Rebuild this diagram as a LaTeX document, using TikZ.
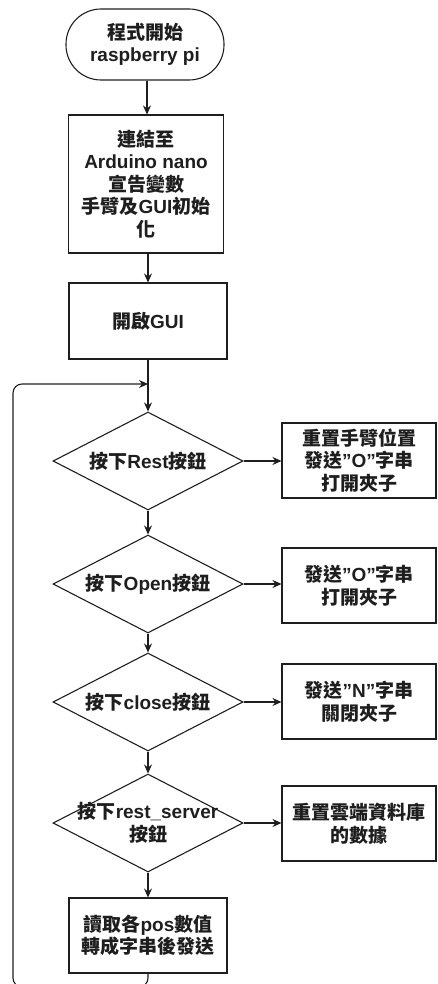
\documentclass[tikz,border=0pt]{standalone}
\usepackage{fontspec}
\setmainfont{Liberation Sans}
\newfontfamily\cjkf{Noto Sans CJK TC}
\newcommand\cj[1]{{\cjkf #1}}
\newcommand\dq{{\char34}}
\usetikzlibrary{arrows.meta,shapes.geometric}
\definecolor{ln}{HTML}{1E1E1E}
\definecolor{tx}{HTML}{1E1E1E}
\tikzset{
  base/.style={draw=ln,line width=1.1pt,text=tx,align=center,inner sep=0pt,
    font=\fontsize{19}{22.5}\selectfont\bfseries},
  proc/.style={base,rectangle},
  term/.style={base,rectangle,rounded corners=35pt},
  dia/.style={draw=ln,line width=1.1pt,diamond,minimum width=190pt,minimum height=98pt,inner sep=0pt},
  lbl/.style={text=tx,align=center,inner sep=0pt,font=\fontsize{19}{22.5}\selectfont\bfseries},
  arr/.style={draw=ln,line width=1.1pt,-{Stealth[length=9pt,width=8pt,inset=3pt]}},
}
\begin{document}
\begin{tikzpicture}[x=1pt,y=-1pt]
\useasboundingbox (0,0) rectangle (437,984);
\node[term,minimum width=158pt,minimum height=71pt] (start) at (145,44.5) {\cj{程式開始}\\raspberry pi};
\node[proc,minimum width=155pt,minimum height=138pt] (b1) at (146,184) {\cj{連結至}\\Arduino nano\\\cj{宣告變數}\\\cj{手臂及}GUI\cj{初始}\\\cj{化}};
\node[proc,minimum width=158pt,minimum height=76pt] (gui) at (148,321) {\cj{開啟}GUI};

\node[dia] (d1) at (148,461) {};
\node[lbl] (d1t) at (d1) {\cj{按下}Rest\cj{按鈕}};
\node[dia] (d2) at (148,584) {};
\node[lbl] (d2t) at (d2) {\cj{按下}Open\cj{按鈕}};
\node[dia] (d3) at (148,702) {};
\node[lbl] (d3t) at (d3) {\cj{按下}close\cj{按鈕}};
\node[dia] (d4) at (148,823) {};
\node[lbl] (d4t) at (d4) {\cj{按下}rest\_server\\\cj{按鈕}};

\node[proc,minimum width=154pt,minimum height=75pt] (r1) at (359,460.5) {\cj{重置手臂位置}\\\cj{發送}\dq O\dq\cj{字串}\\\cj{打開夾子}};
\node[proc,minimum width=154pt,minimum height=75pt] (r2) at (359,585.5) {\cj{發送}\dq O\dq\cj{字串}\\\cj{打開夾子}};
\node[proc,minimum width=154pt,minimum height=75pt] (r3) at (359,701.5) {\cj{發送}\dq N\dq\cj{字串}\\\cj{關閉夾子}};
\node[proc,minimum width=154pt,minimum height=75pt] (r4) at (359,823.5) {\cj{重置雲端資料庫}\\\cj{的數據}};

\node[proc,minimum width=158pt,minimum height=75pt] (last) at (148,935.5) {\cj{讀取各}pos\cj{數值}\\\cj{轉成字串後發送}};

\coordinate (j) at (148,384);
\coordinate (lb) at (148,987);
\coordinate (lc) at (13,987);
\coordinate (lu) at (13,384);

\draw[arr] (start.south -| 147,0) -- (b1.north -| 147,0);
\draw[arr] (b1.south -| 148,0) -- (gui.north);
\draw[arr] (gui) -- (d1);
\draw[arr] (d1) -- (d2);
\draw[arr] (d2) -- (d3);
\draw[arr] (d3) -- (d4);
\draw[arr] (d4) -- (last);
\draw[arr] (d1.east) -- (d1.east -| r1.west);
\draw[arr] (d2.east) -- (d2.east -| r2.west);
\draw[arr] (d3.east) -- (d3.east -| r3.west);
\draw[arr] (d4.east) -- (d4.east -| r4.west);
\draw[arr,rounded corners=9pt] (last.south) -- (lb) -- (lc) -- (lu) -- (j);
\end{tikzpicture}
\end{document}
